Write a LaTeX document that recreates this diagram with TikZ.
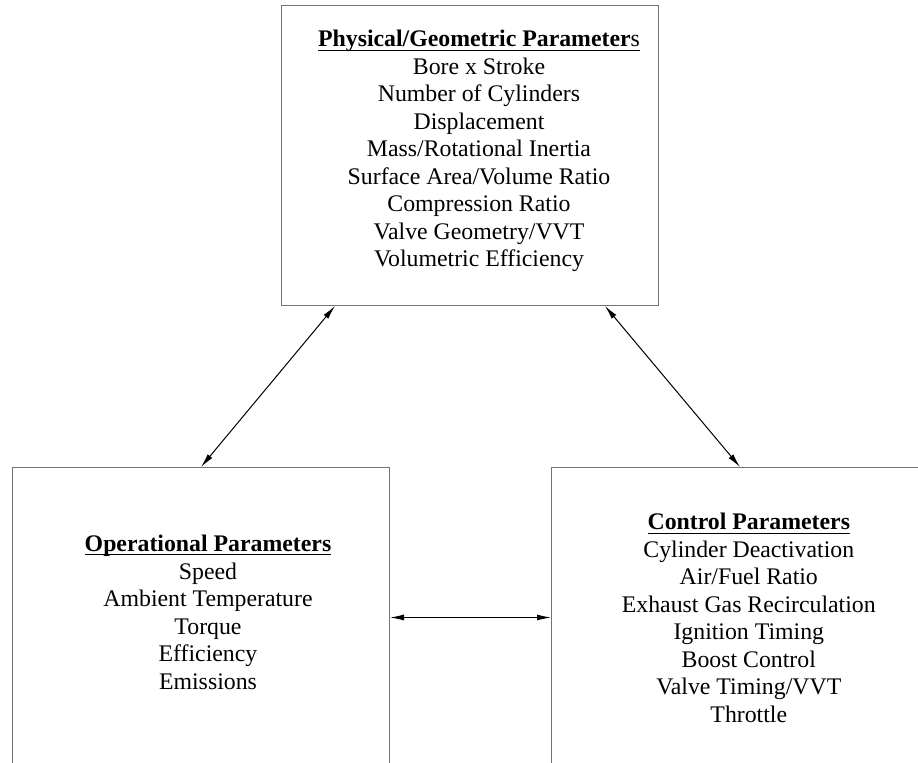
\documentclass[tikz,border=0pt]{standalone}
\usepackage{amsmath}
\usepackage{fontspec}
\setmainfont{Liberation Serif}
\usetikzlibrary{arrows.meta}

\begin{document}
\begin{tikzpicture}[>={Latex[length=7pt,width=3pt]},x=1pt,y=1pt,
				pbox/.style={draw=black!55,line width=0.5pt,minimum width=188.5pt,
					minimum height=150pt,inner sep=0pt,anchor=north west},
				ptext/.style={align=center,inner sep=0pt,
					font=\fontsize{11.9}{13.75}\selectfont}]
				\clip (0,0) rectangle (459,-381.5);
				% boxes
				\node[pbox] (phys) at (140.5,-2.5) {};
				\node[pbox] (oper) at (6,-233.5) {};
				\node[pbox] (ctrl) at (275.5,-233.5) {};
				% texts
				\node[ptext] (physt) at (239.5,-75.5) {\underline{\smash[b]{\textbf{Physical/Geometric Parameter}s}}\\
					Bore x Stroke\\ Number of Cylinders\\ Displacement\\ Mass/Rotational Inertia\\
					Surface Area/Volume Ratio\\ Compression Ratio\\ Valve Geometry/VVT\\ Volumetric Efficiency};
				\node[ptext] (opert) at (104,-306.1) {\underline{\smash[b]{\textbf{Operational Parameters}}}\\
					Speed\\ Ambient Temperature\\ Torque\\ Efficiency\\ Emissions};
				\node[ptext] (ctrlt) at (374.4,-308.9) {\underline{\smash[b]{\textbf{Control Parameters}}}\\
					Cylinder Deactivation\\ Air/Fuel Ratio\\ Exhaust Gas Recirculation\\ Ignition Timing\\
					Boost Control\\ Valve Timing/VVT\\ Throttle};
				% links
				\draw[<->,line width=0.5pt] ([xshift=27pt]phys.south west) -- (oper.north);
				\draw[<->,line width=0.5pt] ([xshift=-27pt]phys.south east) -- (ctrl.north);
				\draw[<->,line width=0.5pt] (oper.east) -- (ctrl.west);
			\end{tikzpicture}
\end{document}
